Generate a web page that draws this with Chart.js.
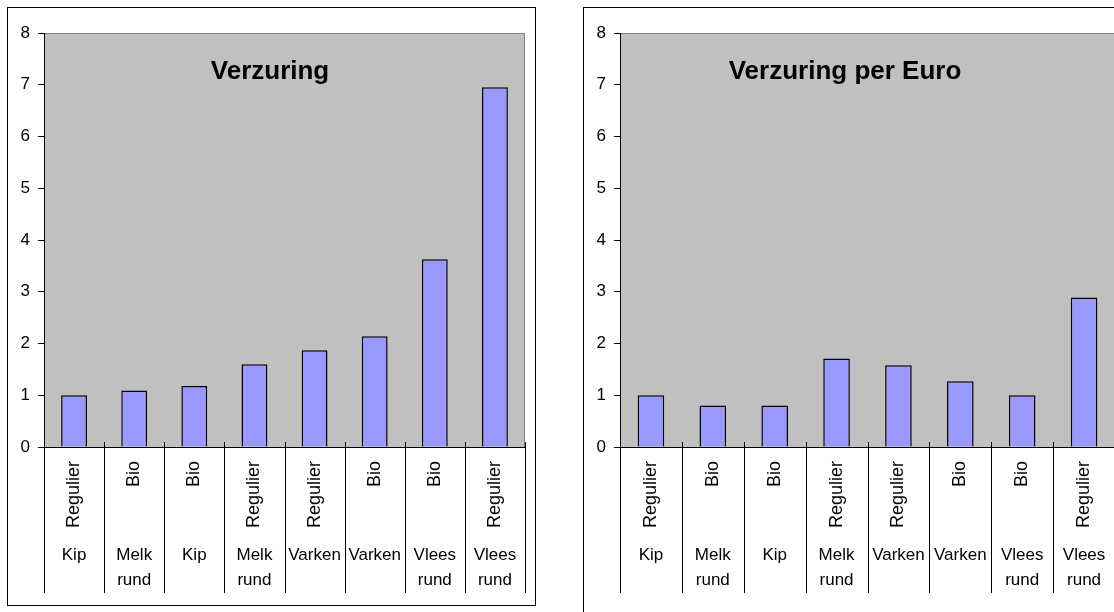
<!DOCTYPE html>
<html>
<head>
<meta charset="utf-8">
<script src="https://cdn.jsdelivr.net/npm/chart.js@4"></script>
<style>
  body { margin: 0; background: #fff; overflow: hidden; width: 1114px; height: 612px; position: relative; }
  .box { position: absolute; border: 1px solid #000; box-sizing: border-box; background: #fff; }
  .box canvas { display: block; }
</style>
</head>
<body>
<div class="box" id="box1" style="left:7px; top:7px; width:529px; height:599px;"><canvas id="c1"></canvas></div>
<div class="box" id="box2" style="left:583px; top:7px; width:560px; height:620px;"><canvas id="c2"></canvas></div>
<script>
// data
var soort = ["Regulier", "Bio", "Bio", "Regulier", "Regulier", "Bio", "Bio", "Regulier"]
var dier = ["Kip", ["Melk", "rund"], "Kip", ["Melk", "rund"], "Varken", "Varken", ["Vlees", "rund"], ["Vlees", "rund"]]
var verzuring = [1.0, 1.09, 1.18, 1.6, 1.87, 2.14, 3.63, 6.95]
var verzuringPerEuro = [1.0, 0.8, 0.8, 1.71, 1.58, 1.27, 1.0, 2.89]
var yTicks = [0, 1, 2, 3, 4, 5, 6, 7, 8]

var plotBg = {
  id: 'plotBg',
  beforeDraw: function(chart) {
    var a = chart.chartArea, ctx = chart.ctx
    ctx.save()
    ctx.fillStyle = '#C0C0C0'
    ctx.fillRect(a.left, a.top, a.right - a.left, a.bottom - a.top)
    ctx.strokeStyle = '#808080'
    ctx.lineWidth = 1
    ctx.beginPath()
    ctx.moveTo(a.left, a.top + 0.5)
    ctx.lineTo(a.right - 0.5, a.top + 0.5)
    ctx.lineTo(a.right - 0.5, a.bottom)
    ctx.stroke()
    ctx.restore()
  }
}

// category separators of the two-level axis, placed from the x scale
var dividers = {
  id: 'dividers',
  afterDraw: function(chart) {
    var x = chart.scales.x, a = chart.chartArea, ctx = chart.ctx
    var n = x.getLabels().length
    var step = x.getPixelForValue(1) - x.getPixelForValue(0)
    ctx.save()
    ctx.strokeStyle = '#000'
    ctx.lineWidth = 1
    ctx.beginPath()
    for (var i = 0; i <= n; i++) {
      var px = Math.round(x.getPixelForValue(0) - step / 2 + i * step) + 0.5
      ctx.moveTo(px, a.bottom - 5)
      ctx.lineTo(px, a.bottom + 146)
    }
    ctx.stroke()
    ctx.restore()
  }
}

var innerTitle = {
  id: 'innerTitle',
  afterDraw: function(chart, args, opts) {
    var ctx = chart.ctx
    ctx.save()
    ctx.font = 'bold 26px "Liberation Sans", Arial, sans-serif'
    ctx.fillStyle = '#000'
    ctx.textAlign = 'center'
    ctx.textBaseline = 'alphabetic'
    ctx.fillText(opts.text, opts.x, chart.chartArea.top + 46)
    ctx.restore()
  }
}

var makeChart = (id, values, title, w, h, padRight, padBottom, titleX) => {
  var canvas = document.getElementById(id)
  canvas.style.width = w + 'px'
  canvas.style.height = h + 'px'
  return new Chart(canvas, {
    type: 'bar',
    data: {
      labels: soort,
      datasets: [{
        data: values,
        backgroundColor: '#9999FF',
        borderColor: '#000',
        borderWidth: 1.5,
        barPercentage: 0.43,
        categoryPercentage: 1
      }]
    },
    plugins: [plotBg, dividers, innerTitle],
    options: {
      responsive: false,
      maintainAspectRatio: false,
      animation: false,
      layout: { padding: { left: 0, top: 25, right: padRight, bottom: padBottom } },
      plugins: {
        legend: { display: false },
        tooltip: { enabled: false },
        innerTitle: { text: title, x: titleX }
      },
      scales: {
        x: {
          type: 'category',
          position: 'bottom',
          offset: true,
          grid: { display: false, drawTicks: false },
          border: { display: true, color: '#000', width: 1 },
          ticks: {
            minRotation: 90, maxRotation: 90, autoSkip: false,
            padding: 14, color: '#000',
            font: { family: '"Liberation Sans", Arial, sans-serif', size: 18 }
          },
          afterFit: function(s) { s.height = 96 }
        },
        x2: {
          type: 'category',
          position: 'bottom',
          labels: dier,
          offset: true,
          grid: { display: false, drawTicks: false },
          border: { display: false },
          ticks: {
            autoSkip: false, maxRotation: 0, minRotation: 0,
            padding: 0, color: '#000',
            font: { family: '"Liberation Sans", Arial, sans-serif', size: 17, lineHeight: 1.45 }
          },
          afterFit: function(s) { s.height = 62 }
        },
        y: {
          min: 0,
          max: 8,
          afterBuildTicks: function(s) { s.ticks = yTicks.map(v => ({ value: v })) },
          grid: { drawOnChartArea: false, drawTicks: true, tickLength: 6, color: '#000' },
          border: { color: '#000', width: 1 },
          ticks: {
            padding: 8, color: '#000',
            font: { family: '"Liberation Sans", Arial, sans-serif', size: 17 }
          },
          afterFit: function(s) { s.width = 36 }
        }
      }
    }
  })
}

makeChart('c1', verzuring, 'Verzuring', 527, 597, 10, 0, 262)
makeChart('c2', verzuringPerEuro, 'Verzuring per Euro', 558, 618, 27, 21, 261)
</script>
</body>
</html>
